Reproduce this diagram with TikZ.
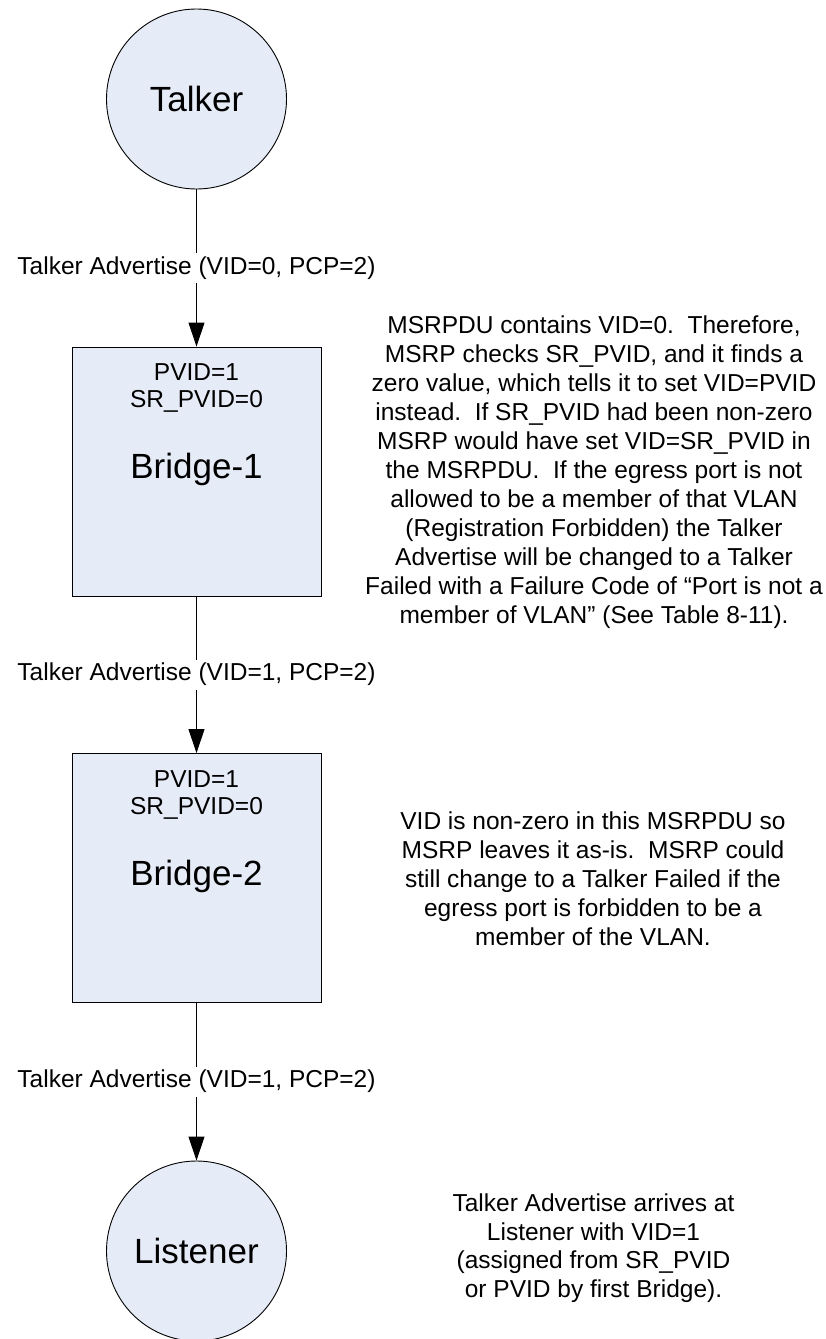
\documentclass[tikz,border=0pt]{standalone}
\usepackage{fontspec}
\setmainfont{Liberation Sans}
\usetikzlibrary{arrows.meta}
\definecolor{nodefill}{RGB}{230,236,247}
\tikzset{
  circ/.style={circle, draw=black, line width=0.9pt, fill=nodefill, minimum size=180pt, inner sep=0pt, font=\fontsize{35}{40}\selectfont},
  bridgebox/.style={rectangle, draw=black, line width=0.9pt, fill=nodefill, minimum width=249pt, minimum height=249pt, inner sep=0pt},
  smalltxt/.style={font=\fontsize{24.5}{29}\selectfont, inner sep=0pt},
  bigtxt/.style={font=\fontsize{35}{40}\selectfont, inner sep=0pt},
  lbl/.style={fill=white, font=\fontsize{24.5}{29}\selectfont, inner xsep=0pt, inner ysep=4pt, text height=17pt, text depth=5pt},
  note/.style={align=center, inner sep=0pt, font=\fontsize{24.5}{29}\selectfont},
  arr/.style={line width=0.9pt, -{Triangle[length=24pt, width=16pt]}}
}
\begin{document}
\begin{tikzpicture}[x=1pt, y=-1pt]
\useasboundingbox (0,0) rectangle (826,1339);

\node[circ] (talker) at (196.5,99) {Talker};
\node[bridgebox] (b1) at (196.5,471.5) {};
\node[smalltxt] (b1p) at (196.5,372) {PVID=1};
\node[smalltxt] (b1s) at (196.5,401) {SR\_PVID=0};
\node[bigtxt] (b1n) at (196.5,469) {Bridge-1};

\node[bridgebox] (b2) at (196.5,878) {};
\node[smalltxt] (b2p) at (196.5,779) {PVID=1};
\node[smalltxt] (b2s) at (196.5,808) {SR\_PVID=0};
\node[bigtxt] (b2n) at (196.5,876) {Bridge-2};

\node[circ] (listener) at (196.5,1251) {Listener};

\draw[arr] (talker) -- node[lbl] (l1) {Talker Advertise (VID=0, PCP=2)} (b1);
\draw[arr] (b1) -- node[lbl] (l2) {Talker Advertise (VID=1, PCP=2)} (b2);
\draw[arr] (b2) -- node[lbl] (l3) {Talker Advertise (VID=1, PCP=2)} (listener);

\node[note] (n1) at (594,472) {MSRPDU contains VID=0.\ \ Therefore,\\
MSRP checks SR\_PVID, and it finds a\\
zero value, which tells it to set VID=PVID\\
instead.\ \ If SR\_PVID had been non-zero\\
MSRP would have set VID=SR\_PVID in\\
the MSRPDU.\ \ If the egress port is not\\
allowed to be a member of that VLAN\\
(Registration Forbidden) the Talker\\
Advertise will be changed to a Talker\\
Failed with a Failure Code of “Port is not a\\
member of VLAN” (See Table 8-11).};

\node[note] (n2) at (593,879) {VID is non-zero in this MSRPDU so\\
MSRP leaves it as-is.\ \ MSRP could\\
still change to a Talker Failed if the\\
egress port is forbidden to be a\\
member of the VLAN.};

\node[note, font=\fontsize{24.5}{28.5}\selectfont] (n3) at (593.5,1248) {Talker Advertise arrives at\\
Listener with VID=1\\
(assigned from SR\_PVID\\
or PVID by first Bridge).};
\end{tikzpicture}
\end{document}
